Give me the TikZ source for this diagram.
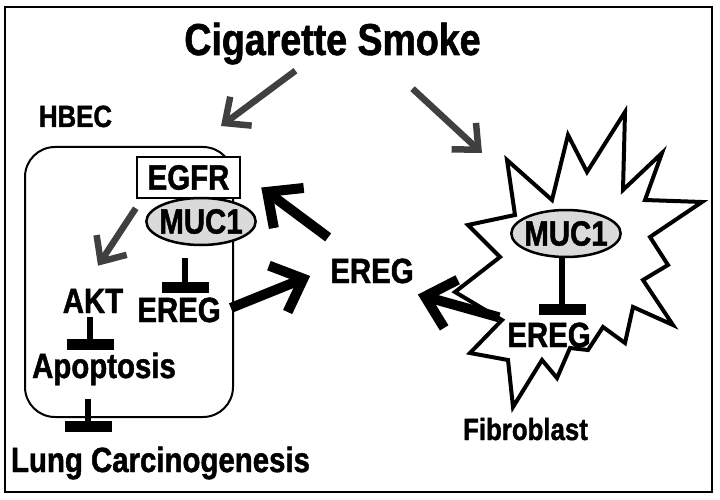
\documentclass[tikz,border=0pt]{standalone}
\usepackage{fontspec}
\setmainfont{Liberation Sans}[FakeStretch=0.84, BoldFeatures={FakeBold=1.3}]
\usetikzlibrary{calc,arrows.meta,shapes.geometric}

\definecolor{smokegray}{HTML}{404040}
\definecolor{mucgray}{HTML}{DADADA}

\tikzset{
  bigfont/.style={font=\bfseries\fontsize{35}{40}\selectfont},
  lbl/.style={bigfont, inner sep=0pt, anchor=base},
  title/.style={lbl, font=\bfseries\fontsize{44.7}{50}\selectfont},
  cellname/.style={lbl, font=\bfseries\fontsize{30.7}{34}\selectfont},
  cellbox/.style={draw, line width=2pt, rounded corners=30pt, inner sep=0pt,
    minimum width=208pt, minimum height=270pt},
  recbox/.style={bigfont, draw, fill=white, line width=2.5pt, inner sep=0pt,
    minimum width=103pt, minimum height=41pt},
  mucin/.style={bigfont, ellipse, draw, fill=mucgray, line width=2.5pt,
    inner xsep=-3pt, inner ysep=0pt, minimum height=47pt},
  smokearrow/.style={draw=smokegray, line width=6.5pt,
    -{Straight Barb[length=20pt,width=36pt]}},
  bigarrow/.style={line width=10pt, -{Straight Barb[length=27pt,width=50pt]}},
  inhibit/.style={line width=5.5pt, -{Rectangle[length=10pt,width=46pt,line width=0.1pt]}},
  burst/.style={line width=4pt}
}

\begin{document}
\begin{tikzpicture}[x=1pt,y=-1pt]
  \useasboundingbox (0,0) rectangle (720,500);
  \draw[line width=2.5pt] (5,7) rectangle (712,492);

  \node[title] (smoke) at (332.5,55) {Cigarette Smoke};
  \node[cellname] (hbec) at (75.5,127) {HBEC};
  \node[cellname] (fib) at (525.5,440) {Fibroblast};

  % epithelial cell
  \node[cellbox] (cell) at (129,282) {};
  \node[recbox] (egfr) at (188.5,177.5) {EGFR};
  \node[mucin] (muc1-l) at (201,221.5) {MUC1};
  \node[lbl] (akt) at (93,313) {AKT};
  \node[lbl] (ereg-in) at (179,322) {EREG};
  \node[lbl] (apop) at (104,378) {Apoptosis};
  \node[lbl] (lung) at (160.5,472) {Lung Carcinogenesis};

  \node[lbl] (ereg-mid) at (372,283) {EREG};

  % fibroblast
  \coordinate (fibro) at (507,160);
  \draw[burst] (fibro) -- (552,200) -- (568,135) -- (587,172) -- (625,112)
    -- (623,190) -- (662,153) -- (645,200) -- (702,202) -- (650,237)
    -- (668,265) -- (643,280) -- (673,325) -- (633,307) -- (625,343)
    -- (603,327) -- (588,350) -- (570,348) -- (557,378) -- (542,360)
    -- (513,407) -- (508,360) -- (470,353) -- (502,320) -- (455,292)
    -- (500,257) -- (468,225) -- (515,215) -- cycle;
  \node[mucin] (muc1-f) at (566,233.5) {MUC1};
  \node[lbl] (ereg-fib) at (549,347) {EREG};

  \draw[smokearrow] ($(smoke.south)+(-37,6)$) -- ($(cell.north east)+(-13,-20)$);
  \draw[smokearrow] ($(smoke.south)+(80,24)$) -- ($(fibro)+(-25,-7)$);
  \draw[smokearrow] ($(egfr.south west)+(0,9)$) -- ($(akt.north)+(5,-23)$);

  \draw[bigarrow] ($(ereg-mid.north west)+(-2,-21)$) -- ($(egfr.east)+(20,10)$);
  \draw[bigarrow] ($(ereg-in.east)+(10,-2)$) -- ($(ereg-mid.west)+(-20,5)$);
  \draw[bigarrow] ($(ereg-fib.north west)+(-8,-5)$) -- ($(ereg-mid.south east)+(4,11)$);

  \draw[inhibit] ($(muc1-l.south)+(-16,12)$) -- ($(ereg-in.north)+(6,-5)$);
  \draw[inhibit] ($(akt.south)+(-3,4)$) -- ($(apop.north)+(-14,-3)$);
  \draw[inhibit] ($(cell.south)+(-41,-19)$) -- ($(lung.north)+(-72.5,-15)$);
  \draw[inhibit] ($(muc1-f.south)+(-4,0)$) -- ($(ereg-fib.north)+(13,-8)$);
\end{tikzpicture}
\end{document}
